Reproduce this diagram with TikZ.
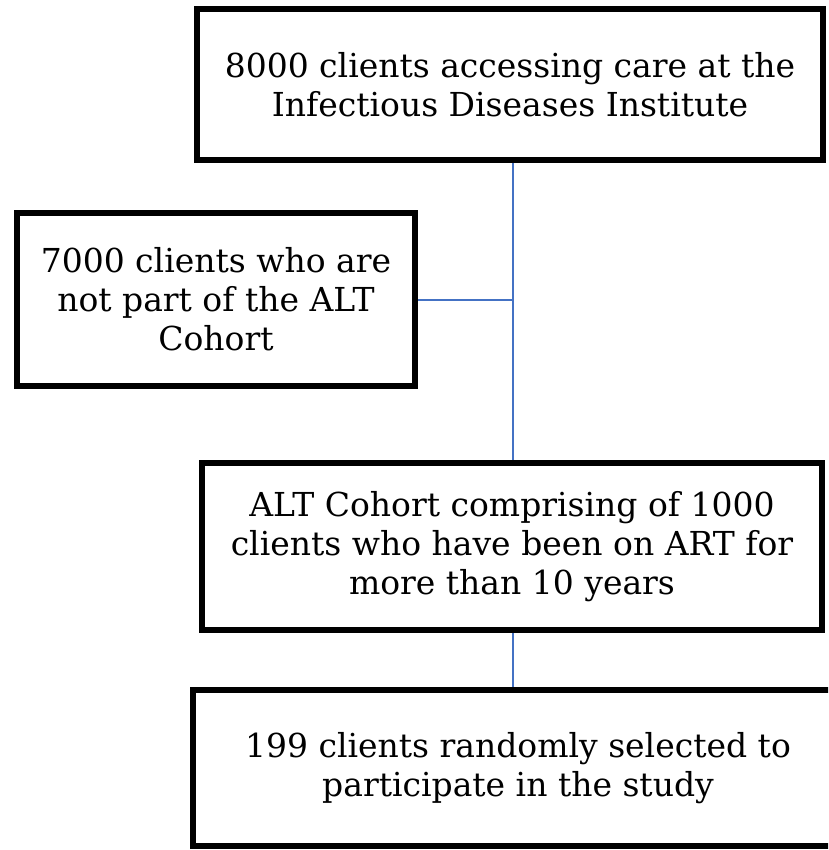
\documentclass[tikz,border=0pt]{standalone}
\usepackage{fontspec}
\setmainfont{DejaVu Serif}

\tikzset{
  stagebox/.style={draw=black,line width=6pt,rectangle,align=center,
    font=\fontsize{33}{39}\selectfont,inner sep=0pt},
  flowline/.style={draw=lineblue,line width=2pt}
}
\definecolor{lineblue}{RGB}{68,114,196}

\begin{document}
\begin{tikzpicture}[x=1pt,y=-1pt]
\clip (0,0) rectangle (828,850);
\fill[white] (0,0) rectangle (828,850);
\node[stagebox,minimum width=626pt,minimum height=151pt] (all) at (510,84.5)
  {8000 clients accessing care at the\\Infectious Diseases Institute};
\node[stagebox,minimum width=398pt,minimum height=173pt] (notalt) at (216,299.5)
  {7000 clients who are\\not part of the ALT\\Cohort};
\node[stagebox,minimum width=620pt,minimum height=167pt] (alt) at (512,546.5)
  {ALT Cohort comprising of 1000\\clients who have been on ART for\\more than 10 years};
\node[stagebox,minimum width=650pt,minimum height=156pt] (study) at (518,768)
  {199 clients randomly selected to\\participate in the study};
\coordinate (split) at (513,300);
\draw[flowline] (all.south -| split) -- (alt.north -| split);
\draw[flowline] (notalt.east |- split) -- (split);
\draw[flowline] (alt.south -| split) -- (study.north -| split);
\end{tikzpicture}
\end{document}
